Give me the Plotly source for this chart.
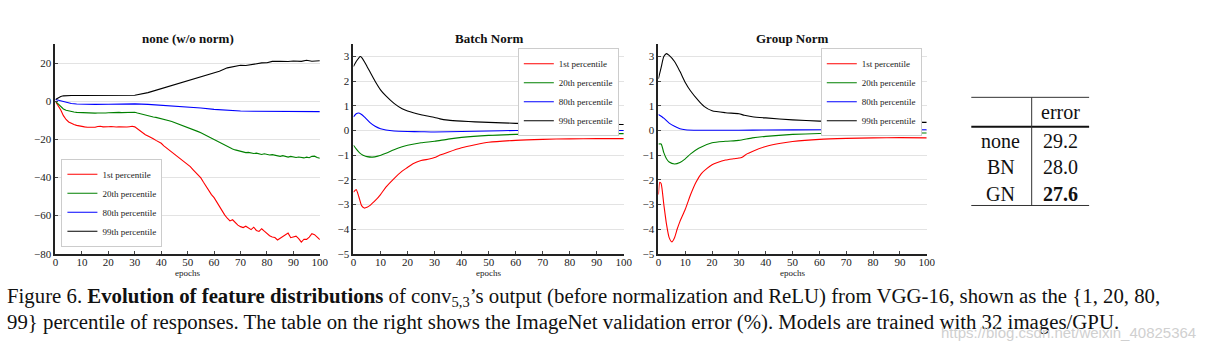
import plotly.graph_objects as go

W, H = 1209, 357

# ---------------- data ----------------
# none (w/o norm): epochs 0..100 step 1 for 1st / 20th percentiles
none_epochs = list(range(0, 101))
none_p1 = [0, -2, -4.5, -7.5, -9.5, -10.8, -11.7, -12.2, -12.6, -13.0,
           -13.3, -13.4, -13.6, -13.7, -13.8, -13.6, -13.2, -13.1, -13.4, -13.5,
           -13.3, -13.2, -13.4, -13.5, -13.3, -13.4, -13.2, -13.5, -13.3, -13.1,
           -13.4, -14.5, -15.8, -16.8, -17.5, -18.2, -18.8, -19.6, -20.5, -21.2,
           -22.0, -23.4, -24.5, -25.3, -26.8, -27.6, -28.9, -30.2, -31.0, -32.4,
           -33.4, -34.3, -35.8, -37.4, -38.4, -40.2, -42.5, -44.8, -46.5, -49.0,
           -50.6, -52.8, -55.6, -57.9, -59.6, -61.4, -62.8, -62.2, -63.9, -65.0,
           -65.8, -66.3, -65.6, -66.7, -67.4, -66.1, -67.8, -68.3, -66.9, -68.2,
           -69.5, -70.6, -71.2, -71.5, -72.8, -71.9, -71.0, -70.3, -69.2, -71.6,
           -71.0, -70.8, -72.1, -73.9, -72.4, -72.5, -71.3, -69.5, -70.0, -71.5,
           -72.6]
none_p20 = [0, -1.5, -3.0, -4.0, -4.7, -5.1, -5.4, -5.6, -5.8, -5.9,
            -6.0, -6.1, -6.2, -6.2, -6.3, -6.2, -6.1, -6.2, -6.0, -6.1,
            -6.0, -5.9, -6.0, -5.9, -5.8, -5.9, -5.8, -5.8, -5.7, -5.8,
            -5.7, -6.1, -6.5, -6.9, -7.3, -7.6, -7.9, -8.2, -8.4, -8.7,
            -9.0, -9.4, -9.8, -10.2, -10.6, -11.1, -11.6, -12.1, -12.6, -13.2,
            -13.8, -14.3, -14.8, -15.4, -15.9, -16.5, -17.2, -17.9, -18.7, -19.4,
            -20.1, -20.9, -21.6, -22.4, -23.2, -23.9, -24.5, -25.0, -25.5, -25.9,
            -26.2, -26.6, -26.9, -26.8, -27.2, -27.4, -27.2, -27.6, -27.9, -27.5,
            -27.8, -28.2, -28.0, -28.4, -28.6, -28.9, -28.5, -29.0, -29.3, -28.9,
            -29.1, -29.5, -29.2, -29.4, -29.7, -29.3, -29.6, -28.9, -28.8, -29.5,
            -29.9]
none_p80_epochs = [0, 2, 4, 6, 8, 10, 15, 20, 25, 30, 35, 40, 45, 50, 55, 60,
                   65, 70, 75, 80, 85, 90, 95, 100]
none_p80 = [1.0, 0.2, -0.6, -1.1, -1.4, -1.5, -1.6, -1.5, -1.4, -1.3, -1.6, -2.0,
            -2.4, -2.9, -3.5, -4.2, -4.8, -5.1, -5.2, -5.3, -5.3, -5.4, -5.3, -5.4]
none_p99_epochs = [0, 1, 2, 3, 4, 6, 10, 20, 30, 35, 40, 45, 50, 55, 60, 62, 65,
                   68, 70, 72, 75, 78, 80, 82, 85, 88, 90, 93, 95, 97, 100]
none_p99 = [1.0, 2.0, 2.6, 2.9, 3.0, 3.1, 3.1, 3.1, 3.2, 4.6, 6.6, 8.6, 10.8,
            12.8, 14.6, 15.8, 17.6, 18.3, 19.0, 18.8, 19.6, 20.2, 20.3, 21.0,
            21.1, 20.9, 21.2, 21.0, 21.6, 21.1, 21.3]

# Batch Norm
bn_p1_epochs = [0, 1, 2, 3, 4, 5, 6, 7, 8, 10, 12, 15, 18, 20, 22, 25, 28, 30,
                32, 35, 40, 45, 50, 60, 70, 80, 90, 100]
bn_p1 = [-2.5, -2.4, -2.7, -3.05, -3.15, -3.12, -3.05, -2.95, -2.85, -2.6, -2.3,
         -1.95, -1.65, -1.5, -1.35, -1.22, -1.16, -1.1, -1.0, -0.88, -0.7, -0.58,
         -0.48, -0.4, -0.36, -0.34, -0.33, -0.33]
bn_p20_epochs = [0, 1, 2, 3, 4, 5, 7, 9, 12, 15, 18, 20, 25, 30, 35, 40, 50, 60,
                 70, 80, 100]
bn_p20 = [-0.6, -0.75, -0.88, -0.97, -1.03, -1.06, -1.08, -1.04, -0.92, -0.78,
          -0.66, -0.6, -0.5, -0.44, -0.35, -0.28, -0.2, -0.16, -0.14, -0.13, -0.13]
bn_p80_epochs = [0, 1, 2, 3, 4, 6, 8, 10, 12, 15, 20, 25, 30, 40, 50, 60, 70, 80, 100]
bn_p80 = [0.55, 0.68, 0.71, 0.65, 0.55, 0.33, 0.17, 0.07, 0.02, -0.02, -0.04,
          -0.05, -0.06, -0.04, -0.02, 0.0, 0.0, 0.0, 0.0]
bn_p99_epochs = [0, 1, 2, 2.5, 3, 4, 5, 6, 8, 10, 12, 15, 18, 20, 25, 30, 32, 35,
                 40, 45, 50, 60, 70, 80, 90, 100]
bn_p99 = [2.6, 2.8, 2.95, 3.0, 2.97, 2.8, 2.6, 2.4, 2.0, 1.65, 1.4, 1.1, 0.88,
          0.79, 0.64, 0.53, 0.47, 0.42, 0.38, 0.35, 0.33, 0.29, 0.27, 0.26, 0.25,
          0.24]

# Group Norm
gn_p1_epochs = [0, 0.5, 1, 2, 3, 4, 5, 6, 7, 8, 10, 12, 14, 16, 18, 20, 22, 25,
                28, 30, 31, 33, 35, 40, 45, 50, 60, 70, 80, 90, 100]
gn_p1 = [-2.6, -2.1, -2.15, -3.0, -3.8, -4.35, -4.52, -4.35, -4.0, -3.7, -3.2,
         -2.6, -2.1, -1.75, -1.55, -1.39, -1.3, -1.2, -1.15, -1.12, -1.1, -0.95,
         -0.85, -0.65, -0.53, -0.45, -0.36, -0.32, -0.3, -0.29, -0.3]
gn_p20_epochs = [0, 1, 2, 3, 4, 6, 8, 10, 12, 15, 20, 25, 30, 35, 40, 50, 60, 80, 100]
gn_p20 = [-0.55, -0.55, -0.9, -1.15, -1.28, -1.36, -1.3, -1.15, -0.95, -0.72,
          -0.5, -0.44, -0.4, -0.3, -0.24, -0.16, -0.12, -0.1, -0.1]
gn_p80_epochs = [0, 2, 4, 6, 8, 10, 15, 20, 30, 40, 60, 80, 100]
gn_p80 = [0.65, 0.5, 0.3, 0.17, 0.07, 0.03, 0.01, 0.01, 0.01, 0.02, 0.03, 0.03, 0.03]
gn_p99_epochs = [0, 1, 2, 3, 4, 6, 8, 10, 12, 15, 17, 20, 25, 30, 32, 35, 40, 50,
                 60, 70, 80, 90, 100]
gn_p99 = [2.1, 2.55, 3.0, 3.12, 3.05, 2.8, 2.4, 1.95, 1.6, 1.2, 0.98, 0.8, 0.72,
          0.68, 0.62, 0.56, 0.51, 0.43, 0.38, 0.36, 0.35, 0.34, 0.33]

series_names = ["1st percentile", "20th percentile", "80th percentile", "99th percentile"]
series_colors = ["#ff0000", "#008000", "#0000ff", "#000000"]
panel_titles = ["none (w/o norm)", "Batch Norm", "Group Norm"]
x_ticks = [0, 10, 20, 30, 40, 50, 60, 70, 80, 90, 100]
none_y_ticks = [-80, -60, -40, -20, 0, 20]
norm_y_ticks = [-5, -4, -3, -2, -1, 0, 1, 2, 3]

table_header = "error"
table_rows = ["none", "BN", "GN"]
table_errors = ["29.2", "28.0", "27.6"]

caption_line1 = ("Figure 6. <b>Evolution of feature distributions</b> of conv<sub>5,3</sub>\u2019s output "
                 "(before normalization and ReLU) from VGG-16, shown as the {1, 20, 80,")
caption_line2 = ("99} percentile of responses. The table on the right shows the ImageNet "
                 "validation error (%). Models are trained with 32 images/GPU.")
watermark = "https://blog.csdn.net/weixin_40825364"

# ---------------- layout helpers ----------------
def px(x):
    return x / W

def py(y):
    return 1 - y / H

SERIF = "Liberation Serif"
ydom = [py(258), py(45)]
xdoms = [[px(53), px(320)], [px(354), px(627)], [px(662), px(933)]]

fig = go.Figure()

panels = [
    [(none_epochs, none_p1), (none_epochs, none_p20), (none_p80_epochs, none_p80), (none_p99_epochs, none_p99)],
    [(bn_p1_epochs, bn_p1), (bn_p20_epochs, bn_p20), (bn_p80_epochs, bn_p80), (bn_p99_epochs, bn_p99)],
    [(gn_p1_epochs, gn_p1), (gn_p20_epochs, gn_p20), (gn_p80_epochs, gn_p80), (gn_p99_epochs, gn_p99)],
]
legend_ids = ["legend", "legend2", "legend3"]

for pi, panel in enumerate(panels):
    ax = "" if pi == 0 else str(pi + 1)
    for si, (xs, ys) in enumerate(panel):
        fig.add_trace(go.Scatter(
            x=xs, y=ys, mode="lines", name=series_names[si],
            line=dict(color=series_colors[si], width=1.1,
                      shape="linear" if pi == 0 else "spline",
                      **({} if pi == 0 else {"smoothing": 0.6})),
            xaxis="x" + ax, yaxis="y" + ax, legend=legend_ids[pi],
            showlegend=True, hoverinfo="skip"))

axis_common = dict(showline=True, linecolor="#222222", linewidth=2, mirror=False,
                   ticks="inside", ticklen=3, tickcolor="#444444",
                   tickfont=dict(family=SERIF, size=11, color="#222222"),
                   zeroline=False)

layout = dict(width=W, height=H, margin=dict(l=0, r=0, t=0, b=0),
              paper_bgcolor="white", plot_bgcolor="white", showlegend=True)

for pi in range(3):
    ax = "" if pi == 0 else str(pi + 1)
    layout["xaxis" + ax] = dict(domain=xdoms[pi], range=[0, 100], tickvals=x_ticks,
                                showgrid=False, anchor="y" + ax, ticklabelstandoff=-3,
                                **axis_common)
    if pi == 0:
        yr, yt = [-80, 30], none_y_ticks
    else:
        yr, yt = [-5, 3.5], norm_y_ticks
    layout["yaxis" + ax] = dict(domain=ydom, range=yr, tickvals=yt,
                                ticktext=[str(v).replace("-", "\u2212") for v in yt],
                                showgrid=True, gridcolor="#e3e3e3", gridwidth=1,
                                anchor="x" + ax, **axis_common)

leg_common = dict(font=dict(family=SERIF, size=9, color="#222222"),
                  bgcolor="white", bordercolor="#cccccc", borderwidth=1,
                  itemwidth=30, tracegroupgap=0, itemclick=False)
layout["legend"] = dict(x=px(59), y=py(251), xanchor="left", yanchor="bottom", **leg_common)
layout["legend2"] = dict(x=px(622), y=py(49), xanchor="right", yanchor="top", **leg_common)
layout["legend3"] = dict(x=px(928), y=py(49), xanchor="right", yanchor="top", **leg_common)

annotations = []
for pi in range(3):
    cx = (xdoms[pi][0] + xdoms[pi][1]) / 2
    annotations.append(dict(text="<b>" + panel_titles[pi] + "</b>", x=cx, y=py(39),
                            xref="paper", yref="paper", showarrow=False,
                            font=dict(family=SERIF, size=13, color="#111111"),
                            xanchor="center", yanchor="middle"))
    annotations.append(dict(text="epochs", x=cx, y=py(278), xref="paper", yref="paper",
                            showarrow=False, font=dict(family=SERIF, size=9, color="#222222"),
                            xanchor="center", yanchor="middle"))

# table
TFONT = dict(family=SERIF, size=20, color="#111111")
annotations.append(dict(text=table_header, x=px(1068), y=py(114), xref="paper", yref="paper",
                        showarrow=False, font=TFONT, xanchor="center", yanchor="middle"))
row_y = [143, 170, 197]
for i, (rn, ev) in enumerate(zip(table_rows, table_errors)):
    annotations.append(dict(text=rn, x=px(1008), y=py(row_y[i]), xref="paper", yref="paper",
                            showarrow=False, font=TFONT, xanchor="center", yanchor="middle"))
    txt = "<b>" + ev + "</b>" if i == 2 else ev
    annotations.append(dict(text=txt, x=px(1068), y=py(row_y[i]), xref="paper", yref="paper",
                            showarrow=False, font=TFONT, xanchor="center", yanchor="middle"))

shapes = [
    dict(type="line", xref="paper", yref="paper", x0=px(978), x1=px(1097), y0=py(99), y1=py(99),
         line=dict(color="#333333", width=1)),
    dict(type="line", xref="paper", yref="paper", x0=px(978), x1=px(1097), y0=py(129), y1=py(129),
         line=dict(color="#111111", width=2)),
    dict(type="line", xref="paper", yref="paper", x0=px(978), x1=px(1097), y0=py(209), y1=py(209),
         line=dict(color="#333333", width=1)),
    dict(type="line", xref="paper", yref="paper", x0=px(1039), x1=px(1039), y0=py(99), y1=py(209),
         line=dict(color="#333333", width=1)),
]

# caption
CFONT = dict(family=SERIF, size=20.8, color="#111111")
annotations.append(dict(text=caption_line1, x=px(2), y=py(302), xref="paper", yref="paper",
                        showarrow=False, font=CFONT, xanchor="left", yanchor="middle"))
annotations.append(dict(text=caption_line2, x=px(2), y=py(327), xref="paper", yref="paper",
                        showarrow=False, font=CFONT, xanchor="left", yanchor="middle"))
annotations.append(dict(text=watermark, x=px(1207), y=py(338), xref="paper", yref="paper",
                        showarrow=False, font=dict(family="Liberation Sans", size=15, color="#d0d0d0"),
                        xanchor="right", yanchor="middle"))

layout["annotations"] = annotations
layout["shapes"] = shapes
fig.update_layout(**layout)
fig.write_html("out.html", config={"displayModeBar": False},
               post_script="document.body.style.margin='0';document.body.style.overflow='hidden';")
